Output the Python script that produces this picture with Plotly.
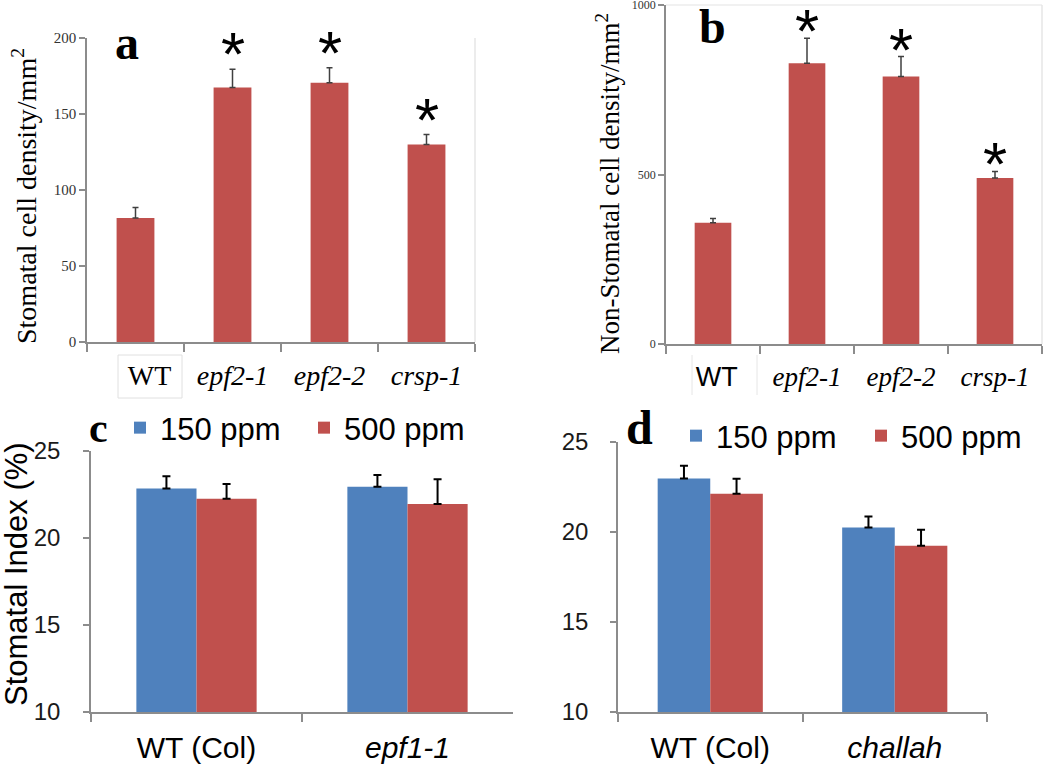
import plotly.graph_objects as go

# ---------------- data ----------------
genotypes_ab = ["WT", "epf2-1", "epf2-2", "crsp-1"]
ticktext_a = ["\u00a0\u00a0\u00a0\u00a0WT", "<i>epf2-1</i>", "<i>epf2-2</i>", "<i>crsp-1</i>"]
ticktext_b = ["<span style='font-family:Liberation Sans'>\u00a0WT</span>", "<i>epf2-1</i>", "<i>epf2-2</i>", "<i>crsp-1</i>"]
stomatal_density = [81.5, 167.5, 170.5, 130.0]
stomatal_density_err = [7.0, 12.0, 10.0, 6.5]
nonstomatal_density = [358, 828, 789, 490]
nonstomatal_density_err = [12, 74, 59, 19]
significant = [False, True, True, True]

genotypes_c = ["WT (Col)", "epf1-1"]
ticktext_c = ["WT (Col)", "<i>epf1-1</i>"]
si_c_150 = [22.85, 22.95]
si_c_150_err = [0.70, 0.67]
si_c_500 = [22.25, 21.95]
si_c_500_err = [0.85, 1.42]

genotypes_d = ["WT (Col)", "challah"]
ticktext_d = ["WT (Col)", "<i>challah</i>"]
si_d_150 = [22.97, 20.25]
si_d_150_err = [0.71, 0.61]
si_d_500 = [22.12, 19.24]
si_d_500_err = [0.84, 0.88]

series_names = ["150 ppm", "500 ppm"]

# ---------------- style ----------------
W, H = 1050, 767
RED = "#C0504D"
BLUE = "#4F81BD"
SERIF = "Liberation Serif"
SANS = "Liberation Sans"
AXIS = "#8c8c8c"


def px(x):
    return x / W


def py(y):
    return 1 - y / H


fig = go.Figure()

# panel a
fig.add_trace(go.Bar(
    x=genotypes_ab, y=stomatal_density, width=0.39, marker=dict(color=RED, line=dict(width=0)),
    error_y=dict(type="data", array=stomatal_density_err, symmetric=False,
                 arrayminus=[0] * 4, color="#404040", thickness=1.5, width=3),
    xaxis="x", yaxis="y", showlegend=False))
# panel b
fig.add_trace(go.Bar(
    x=genotypes_ab, y=nonstomatal_density, width=0.39, marker=dict(color=RED, line=dict(width=0)),
    error_y=dict(type="data", array=nonstomatal_density_err, symmetric=False,
                 arrayminus=[0] * 4, color="#404040", thickness=1.5, width=3),
    xaxis="x2", yaxis="y2", showlegend=False))

# panel c
for vals, errs, col, name, off in [(si_c_150, si_c_150_err, BLUE, series_names[0], -0.285),
                                    (si_c_500, si_c_500_err, RED, series_names[1], 0.0)]:
    fig.add_trace(go.Bar(
        x=genotypes_c, y=vals, width=0.285, offset=off, name=name,
        marker=dict(color=col, line=dict(width=0)),
        error_y=dict(type="data", array=errs, symmetric=False, arrayminus=[0] * 2,
                     color="black", thickness=2, width=4),
        xaxis="x3", yaxis="y3", legend="legend"))
# panel d
for vals, errs, col, name, off in [(si_d_150, si_d_150_err, BLUE, series_names[0], -0.285),
                                    (si_d_500, si_d_500_err, RED, series_names[1], 0.0)]:
    fig.add_trace(go.Bar(
        x=genotypes_d, y=vals, width=0.285, offset=off, name=name,
        marker=dict(color=col, line=dict(width=0)),
        error_y=dict(type="data", array=errs, symmetric=False, arrayminus=[0] * 2,
                     color="black", thickness=2, width=4),
        xaxis="x4", yaxis="y4", legend="legend2"))

common_x = dict(type="category", showline=True, linecolor=AXIS, linewidth=1.5,
                ticks="outside", tickson="boundaries", ticklen=8, tickcolor=AXIS, tickwidth=1.5,
                showgrid=False, zeroline=False, automargin=False)
common_y = dict(showline=True, linecolor=AXIS, linewidth=1.5, ticks="outside", ticklen=6,
                tickcolor=AXIS, tickwidth=1.5, showgrid=False, zeroline=False, automargin=False,
                ticklabeloverflow="allow")

fig.update_layout(
    width=W, height=H, margin=dict(l=0, r=0, t=0, b=0, autoexpand=False),
    paper_bgcolor="white", plot_bgcolor="white", barmode="overlay",
    xaxis=dict(common_x, domain=[px(87), px(475)], anchor="y", tickvals=genotypes_ab, ticktext=ticktext_a,
               tickfont=dict(family=SERIF, size=28, color="black"), ticklabelstandoff=8),
    yaxis=dict(common_y, domain=[py(342), py(38)], anchor="x", range=[0, 200], dtick=50,
               tickfont=dict(family=SERIF, size=15, color="#333333")),
    xaxis2=dict(common_x, domain=[px(666), px(1042)], anchor="y2", tickvals=genotypes_ab, ticktext=ticktext_b,
                tickfont=dict(family=SERIF, size=27, color="black"), ticklabelstandoff=8),
    yaxis2=dict(common_y, domain=[py(344), py(5)], anchor="x2", range=[0, 1000], dtick=500,
                tickfont=dict(family=SERIF, size=12, color="#333333")),
    xaxis3=dict(common_x, domain=[px(91), px(513)], anchor="y3", tickvals=genotypes_c, ticktext=ticktext_c,
                tickfont=dict(family=SANS, size=30, color="black"), ticklabelstandoff=8),
    yaxis3=dict(common_y, domain=[py(712), py(451)], anchor="x3", range=[10, 25], dtick=5,
                tickfont=dict(family=SANS, size=24, color="#1a1a1a"), ticklabelstandoff=18),
    xaxis4=dict(common_x, domain=[px(618), px(987)], anchor="y4", tickvals=genotypes_d, ticktext=ticktext_d,
                tickfont=dict(family=SANS, size=30, color="black"), ticklabelstandoff=8),
    yaxis4=dict(common_y, domain=[py(712), py(442)], anchor="x4", range=[10, 25], dtick=5,
                tickfont=dict(family=SANS, size=24, color="#1a1a1a"), ticklabelstandoff=17),
    legend=dict(orientation="h", x=px(120), y=py(428), xanchor="left", yanchor="middle",
                font=dict(family=SANS, size=31, color="black"), entrywidth=139, entrywidthmode="pixels",
                bgcolor="rgba(0,0,0,0)"),
    legend2=dict(orientation="h", x=px(676), y=py(436), xanchor="left", yanchor="middle",
                 font=dict(family=SANS, size=31, color="black"), entrywidth=140, entrywidthmode="pixels",
                 bgcolor="rgba(0,0,0,0)"),
)

# faint plot-area borders
fig.add_shape(type="line", xref="x domain", yref="y domain", x0=1, x1=1, y0=0, y1=1,
              line=dict(color="#d9d9d9", width=1))
fig.add_shape(type="line", xref="x2 domain", yref="y2 domain", x0=1, x1=1, y0=0, y1=1,
              line=dict(color="#d9d9d9", width=1))
fig.add_shape(type="line", xref="x2 domain", yref="y2 domain", x0=0, x1=1, y0=1, y1=1,
              line=dict(color="#e3e3e3", width=1))
# box around WT label (a) and separators (b)
fig.add_shape(type="rect", xref="paper", yref="paper", x0=px(118), x1=px(182), y0=py(398), y1=py(355),
              line=dict(color="#e0e0e0", width=1))
for xx in (692, 757):
    fig.add_shape(type="line", xref="paper", yref="paper", x0=px(xx), x1=px(xx), y0=py(395), y1=py(355),
                  line=dict(color="#e6e6e6", width=1))

# significance asterisks
for xa, ya, vals, errs, shift in [("x", "y", stomatal_density, stomatal_density_err, -21),
                                  ("x2", "y2", nonstomatal_density, nonstomatal_density_err, -29)]:
    for g, v, e, s in zip(genotypes_ab, vals, errs, significant):
        if s:
            fig.add_annotation(x=g, y=v + e, xref=xa, yref=ya, text="*", showarrow=False,
                               yanchor="bottom", yshift=shift,
                               font=dict(family=SANS, size=62, color="black"))

# panel letters
for letter, x, y, size in [("a", 127, 43, 48), ("b", 712, 27, 48), ("c", 98, 428, 42), ("d", 639, 427, 48)]:
    fig.add_annotation(x=px(x), y=py(y), xref="paper", yref="paper", text=f"<b>{letter}</b>",
                       showarrow=False, xanchor="center", yanchor="middle",
                       font=dict(family=SERIF, size=size, color="black"))

# y-axis titles
for text, x, y, fam, size in [("Stomatal cell density/mm<sup>2</sup>", 24, 196, SERIF, 28),
                              ("Non-Stomatal cell density/mm<sup>2</sup>", 608, 184, SERIF, 27),
                              ("Stomatal Index (%)", 16, 574, SANS, 31)]:
    fig.add_annotation(x=px(x), y=py(y), xref="paper", yref="paper", text=text,
                       textangle=-90, showarrow=False, xanchor="center", yanchor="middle",
                       font=dict(family=fam, size=size, color="black"))

fig.write_html("out.html", post_script="document.body.style.margin='0';",
               config={"displayModeBar": False})
